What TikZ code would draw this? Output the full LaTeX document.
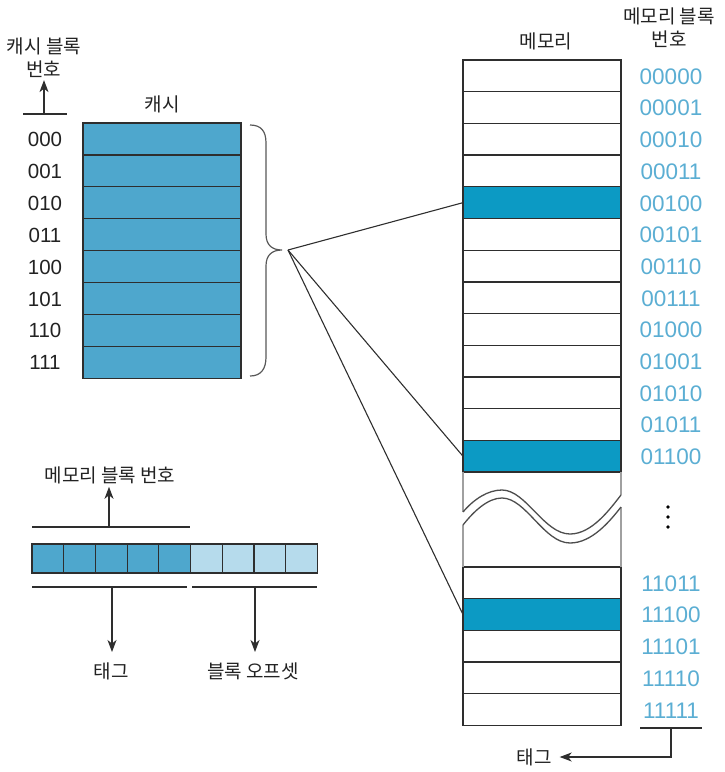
\documentclass[tikz,border=0pt]{standalone}
\usepackage{fontspec}
\setmainfont{Noto Sans CJK KR}
\newfontfamily\digitfont{Liberation Sans}
\usetikzlibrary{arrows.meta}
\definecolor{cachefill}{HTML}{4EA7CD}
\definecolor{memhi}{HTML}{0C9AC4}
\definecolor{lightcell}{HTML}{B6DBEC}
\definecolor{numblue}{HTML}{5BAED3}
\definecolor{edgec}{HTML}{2E2E2E}
\definecolor{breakgrey}{HTML}{A0A0A0}
\definecolor{txt}{HTML}{222222}
\begin{document}
\begin{tikzpicture}[x=1pt,y=-1pt,
  memrow/.style={draw=edgec, line width=1.3pt, minimum width=158pt, minimum height=31.7pt, inner sep=0pt, outer sep=0pt, anchor=north west, fill=white},
  hirow/.style={memrow, fill=memhi},
  cacherow/.style={draw=edgec, line width=1.3pt, fill=cachefill, minimum width=158pt, minimum height=31.9pt, inner sep=0pt, outer sep=0pt, anchor=north west},
  bitcell/.style={draw=edgec, line width=1.2pt, minimum width=31.7pt, minimum height=29pt, inner sep=0pt, outer sep=0pt, anchor=north west},
  kor/.style={text=txt, font=\fontsize{19}{23}\selectfont, inner sep=0pt, align=center},
  memnum/.style={text=numblue, font=\digitfont\fontsize{22.5}{24}\selectfont, inner sep=0pt},
  cachenum/.style={text=txt, font=\digitfont\fontsize{20.5}{22}\selectfont, inner sep=0pt},
  conn/.style={draw=edgec, line width=1.1pt},
  arr/.style={draw=edgec, line width=1.2pt, -{Stealth[length=12pt,width=9pt,inset=3.5pt]}},
  brk/.style={draw=breakgrey, line width=1.4pt},
  wave/.style={draw=edgec!85, line width=1.3pt}
]
\useasboundingbox (0,0) rectangle (725,772);

% ---------- memory column ----------
\foreach \lab [count=\i from 0] in {00000,00001,00010,00011,00100,00101,00110,00111,01000,01001,01010,01011,01100} {
  \pgfmathsetmacro{\ty}{60+\i*31.7}
  \ifnum\i=4 \node[hirow] (m\i) at (463,\ty) {};
  \else\ifnum\i=12 \node[hirow] (m\i) at (463,\ty) {};
  \else \node[memrow] (m\i) at (463,\ty) {};
  \fi\fi
  \node[memnum] (ml\i) at (671,\ty+16.5) {\lab};
}
\foreach \lab [count=\i from 0] in {11011,11100,11101,11110,11111} {
  \pgfmathsetmacro{\ty}{567+\i*31.7}
  \ifnum\i=1 \node[hirow] (n\i) at (463,\ty) {};
  \else \node[memrow] (n\i) at (463,\ty) {};
  \fi
  \node[memnum] (nl\i) at (671,\ty+16.5) {\lab};
}

% break region
\draw[brk] (m12.south west) -- (463,512);
\draw[brk] (463,525) -- (n0.north west);
\draw[brk] (m12.south east) -- (621,495);
\draw[brk] (621,507) -- (n0.north east);
\draw[wave] (463,512) .. controls (474,499) and (488,490) .. (502,490)
  .. controls (526,490) and (544,534) .. (570,534)
  .. controls (592,534) and (610,509) .. (621,495);
\draw[wave] (463,525) .. controls (474,511) and (488,498) .. (502,498)
  .. controls (526,498) and (544,543) .. (570,543)
  .. controls (592,543) and (610,521) .. (621,507);

% vertical dots
\foreach \dy [count=\k] in {507,517,527} \fill[black] (668,\dy) circle (1.9pt);

% memory headings
\node[kor] (memtitle) at (546,41) {메모리};
\node[kor] (memnumtitle) at (669,28) {메모리 블록\\번호};

% ---------- cache ----------
\foreach \lab [count=\i from 0] in {000,001,010,011,100,101,110,111} {
  \pgfmathsetmacro{\ty}{123+\i*31.9}
  \node[cacherow] (c\i) at (83,\ty) {};
  \node[cachenum] (cl\i) at (45,\ty+16.5) {\lab};
}
\node[kor] (cachetitle) at (162,104) {캐시};
\node[kor] (cblk) at (44,58) {캐시 블록\\번호};
\coordinate (cbl1) at (23,114);
\coordinate (cbl2) at (67,114);
\coordinate (cbfoot) at (44,114);
\draw[conn] (cbl1) -- (cbl2);
\draw[arr] (cbfoot) -- ([yshift=-2pt]cblk.south);

% brace
\draw[draw=edgec!80, line width=1.2pt]
  (250,125) .. controls (261,125) and (266,131) .. (266,143)
  -- (266,234) .. controls (266,245) and (272,250) .. (282,250)
  .. controls (272,250) and (266,255) .. (266,266)
  -- (266,357) .. controls (266,369) and (261,376) .. (250,376);
\coordinate (tip) at (288,250);
\draw[conn] (tip) -- (m4.west);
\draw[conn] (tip) -- (m12.west);
\draw[conn] (tip) -- (n1.west);

% ---------- address bar ----------
\foreach \i in {0,...,4} \node[bitcell, fill=cachefill] (b\i) at (32+\i*31.7,544) {};
\foreach \i in {5,...,8} \node[bitcell, fill=lightcell] (b\i) at (32+\i*31.7,544) {};
\node[kor] (mbn) at (110,475) {메모리 블록 번호};
\coordinate (tl1) at (32,527);
\coordinate (tl2) at (190,527);
\coordinate (tlm) at (109,527);
\draw[conn] (tl1) -- (tl2);
\draw[arr] (tlm) -- ([yshift=-3pt]mbn.south -| tlm);
\coordinate (bl1) at (32,587);
\coordinate (bl2) at (187,587);
\coordinate (bl3) at (192,587);
\coordinate (bl4) at (317,587);
\coordinate (blm1) at (112,587);
\coordinate (blm2) at (255,587);
\draw[conn] (bl1) -- (bl2);
\draw[conn] (bl3) -- (bl4);
\node[kor] (tag1) at (111,671) {태그};
\node[kor] (offs) at (253,671) {블록 오프셋};
\draw[arr] (blm1) -- (112,652);
\draw[arr] (blm2) -- (255,652);

% ---------- bottom right tag ----------
\coordinate (rl1) at (640,728);
\coordinate (rl2) at (702,728);
\coordinate (rlm) at (671,728);
\coordinate (rlc) at (671,757);
\draw[conn] (rl1) -- (rl2);
\node[kor] (tag2) at (534,757) {태그};
\draw[arr] (rlm) -- (rlc) -- ([xshift=8pt]tag2.east);
\end{tikzpicture}
\end{document}
